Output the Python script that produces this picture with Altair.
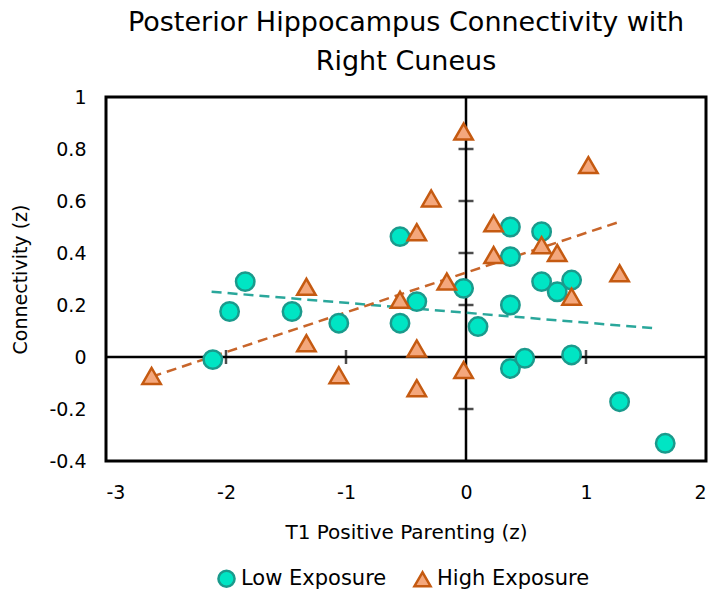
import altair as alt
import pandas as pd

low_x = [-2.11, -1.84, -1.97, -1.45, -1.06, -0.55, -0.55, -0.41, -0.02, 0.10,
         0.37, 0.37, 0.37, 0.37, 0.49, 0.63, 0.63, 0.76, 0.88, 0.88, 1.28, 1.66]
low_y = [-0.01, 0.29, 0.175, 0.175, 0.13, 0.463, 0.13, 0.213, 0.264, 0.117,
         0.50, 0.386, 0.20, -0.044, -0.005, 0.482, 0.29, 0.251, 0.296, 0.008, -0.172, -0.332]

high_x = [-2.62, -1.33, -1.33, -1.06, -0.55, -0.41, -0.41, -0.41, -0.29, -0.16,
          -0.02, -0.02, 0.23, 0.23, 0.63, 0.76, 0.88, 1.02, 1.28]
high_y = [-0.073, 0.27, 0.053, -0.07, 0.22, 0.48, 0.033, -0.12, 0.61, 0.29,
          0.867, -0.05, 0.514, 0.392, 0.43, 0.40, 0.232, 0.738, 0.322]

low_trend_x = [-2.12, 1.58]
low_trend_y = [0.251, 0.11]
high_trend_x = [-2.62, 1.28]
high_trend_y = [-0.076, 0.52]

y_ticks = [-0.4, -0.2, 0, 0.2, 0.4, 0.6, 0.8, 1]
x_ticks = [-3, -2, -1, 0, 1, 2]
inner_y_ticks = [-0.2, 0.2, 0.4, 0.6, 0.8]
inner_x_ticks = [-2, -1, 1]

series = ["Low Exposure", "High Exposure"]
fills = ["#00E5C4", "#F4A77C"]
strokes = ["#1A9A8C", "#C55A11"]
shapes = ["circle", "triangle-up"]

FONT = "DejaVu Sans"

pts = pd.DataFrame({
    "x": low_x + high_x,
    "y": low_y + high_y,
    "s": [series[0]] * len(low_x) + [series[1]] * len(high_x),
})
trend = pd.DataFrame({
    "x": low_trend_x + high_trend_x,
    "y": low_trend_y + high_trend_y,
    "s": [series[0]] * 2 + [series[1]] * 2,
})

xs = alt.Scale(domain=[-3, 2], nice=False, zero=False)
ys = alt.Scale(domain=[-0.4, 1], nice=False, zero=False)

xax = alt.Axis(values=x_ticks, domain=False, ticks=False, grid=False,
               labelExpr="datum.value + ''",
               labelFontSize=19, labelColor="#000", labelFont=FONT, labelPadding=22,
               title="T1 Positive Parenting (z)", titleFontSize=20, titleFont=FONT,
               titleFontWeight="normal", titleColor="#000", titlePadding=20)
yax = alt.Axis(values=y_ticks, domain=False, ticks=False, grid=False,
               labelExpr="datum.value + ''",
               labelFontSize=19, labelColor="#000", labelFont=FONT, labelPadding=20,
               title="Connectivity (z)", titleFontSize=19, titleFont=FONT,
               titleFontWeight="normal", titleColor="#000", titlePadding=18)

base_x = alt.X("x:Q", scale=xs, axis=xax)
base_y = alt.Y("y:Q", scale=ys, axis=yax)

vrule = alt.Chart(pd.DataFrame({"x": [0]})).mark_rule(color="#000", strokeWidth=2.5).encode(
    x=alt.X("x:Q", scale=xs, axis=xax))
hrule = alt.Chart(pd.DataFrame({"y": [0]})).mark_rule(color="#000", strokeWidth=2.5).encode(
    y=alt.Y("y:Q", scale=ys, axis=yax))

yt = alt.Chart(pd.DataFrame({"x": [0] * len(inner_y_ticks), "y": inner_y_ticks})).mark_tick(
    orient="horizontal", color="#000", size=15, thickness=2.5).encode(x=base_x, y=base_y)
xt = alt.Chart(pd.DataFrame({"x": inner_x_ticks, "y": [0] * len(inner_x_ticks)})).mark_tick(
    orient="vertical", color="#000", size=14, thickness=2.5).encode(x=base_x, y=base_y)

lines = alt.Chart(trend).mark_line(strokeWidth=2.5, strokeDash=[10, 6]).encode(
    x=base_x, y=base_y,
    detail="s:N",
    color=alt.Color("s:N", scale=alt.Scale(domain=series, range=["#2AA79B", "#C8652A"]), legend=None),
)

points = alt.Chart(pts).mark_point(filled=True, opacity=1, strokeWidth=2.5, strokeOpacity=1).encode(
    x=base_x, y=base_y,
    shape=alt.Shape("s:N", scale=alt.Scale(domain=series, range=shapes), title=None),
    fill=alt.Fill("s:N", scale=alt.Scale(domain=series, range=fills), title=None),
    stroke=alt.Stroke("s:N", scale=alt.Scale(domain=series, range=strokes), title=None),
    size=alt.value(340),
)

chart = alt.layer(vrule, hrule, yt, xt, lines, points).resolve_scale(color="independent").properties(
    width=600, height=364,
    title=alt.Title(["Posterior Hippocampus Connectivity with", "Right Cuneus"],
                    fontSize=27, font=FONT, fontWeight="normal", color="#000",
                    lineHeight=39, offset=12, anchor="middle"),
    padding={"left": 106, "top": 97, "right": 6, "bottom": 133},
    autosize=alt.AutoSizeParams(type="none"),
).configure_view(stroke="#000", strokeWidth=3).configure_legend(
    orient="none", legendX=110, legendY=471, direction="horizontal",
    labelFontSize=21, labelFont=FONT, labelColor="#000", symbolSize=260,
    symbolStrokeWidth=2.5, labelOffset=4, columnPadding=22, symbolOpacity=1,
)

chart.save("out.html", embed_options={"renderer": "svg", "actions": False})
